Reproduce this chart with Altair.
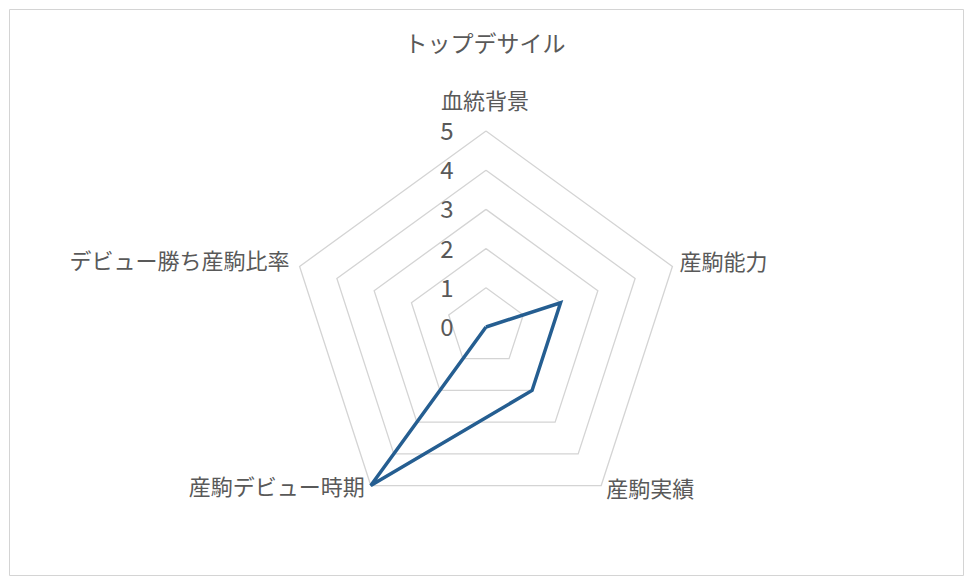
import altair as alt
import pandas as pd

categories = ["血統背景", "産駒能力", "産駒実績", "産駒デビュー時期", "デビュー勝ち産駒比率"]
values = [0, 2, 2, 5, 0]
rings = [1, 2, 3, 4, 5]
tick_labels = ["0", "1", "2", "3", "4", "5"]
title_text = "トップデサイル"

FONT = "Noto Sans CJK JP"
GRAY = "#595959"
N = len(categories)

# series table (closed polygon)
series = pd.DataFrame({
    "category": categories + [categories[0]],
    "value": values + [values[0]],
    "idx": list(range(N)) + [N],
})

# grid table
grid = pd.DataFrame(
    [{"ring": r, "idx": i} for r in rings for i in range(N + 1)]
)

ticks = pd.DataFrame({"v": list(range(len(tick_labels))), "label": tick_labels})

PAD = 1
W, H = 954, 566
CX, CY = 477, 318
K = 39.2
xdom = [-CX / K, (W - CX) / K]
ydom = [-(H - CY) / K, CY / K]

xs = alt.Scale(domain=xdom, nice=False, zero=False)
ys = alt.Scale(domain=ydom, nice=False, zero=False)

def polar(r_field):
    return dict(
        px=f"{r_field} * sin(datum.idx * 2 * PI / {N})",
        py=f"{r_field} * cos(datum.idx * 2 * PI / {N})",
    )

grid_layer = alt.Chart(grid).transform_calculate(**polar("datum.ring")).mark_line(
    color="#d4d4d4", strokeWidth=1.3
).encode(
    x=alt.X("px:Q", scale=xs, axis=None),
    y=alt.Y("py:Q", scale=ys, axis=None),
    detail="ring:N",
    order="idx:Q",
)

series_layer = alt.Chart(series).transform_calculate(**polar("datum.value")).mark_line(
    color="#255e91", strokeWidth=3.5, strokeJoin="miter"
).encode(
    x=alt.X("px:Q", scale=xs, axis=None),
    y=alt.Y("py:Q", scale=ys, axis=None),
    order="idx:Q",
)

label_df = pd.DataFrame({"category": categories, "idx": list(range(N))})
label_styles = [
    dict(align="center", dx=-1, dy=-29),
    dict(align="left", dx=7, dy=-3),
    dict(align="left", dx=5, dy=4),
    dict(align="right", dx=-6, dy=2),
    dict(align="right", dx=-10, dy=-4),
]
label_layers = []
for cat, st in zip(categories, label_styles):
    label_layers.append(
        alt.Chart(label_df).transform_filter(alt.datum.category == cat)
        .transform_calculate(**polar(str(max(rings))))
        .mark_text(font=FONT, fontSize=22, color=GRAY, baseline="middle", **st)
        .encode(
            x=alt.X("px:Q", scale=xs, axis=None),
            y=alt.Y("py:Q", scale=ys, axis=None),
            text="category:N",
        )
    )

tick_layer = alt.Chart(ticks).transform_calculate(zero="0").mark_text(
    font=FONT, fontSize=24, color=GRAY, align="center", baseline="middle", dx=-39, dy=2
).encode(
    x=alt.X("zero:Q", scale=xs, axis=None),
    y=alt.Y("v:Q", scale=ys, axis=None),
    text="label:N",
)

title_layer = alt.Chart(pd.DataFrame({"t": [title_text]})).mark_text(
    font=FONT, fontSize=23, color=GRAY, align="center", baseline="middle"
).encode(
    x=alt.value(476), y=alt.value(36), text="t:N"
)

chart = alt.layer(
    grid_layer, series_layer, *label_layers, tick_layer, title_layer
).properties(
    width=W, height=H, autosize=alt.AutoSizeParams(type="none"), padding=PAD
).configure_view(stroke="#d4d4d4", strokeWidth=1)

chart.save("out.html", embed_options={"renderer": "svg", "actions": False})
